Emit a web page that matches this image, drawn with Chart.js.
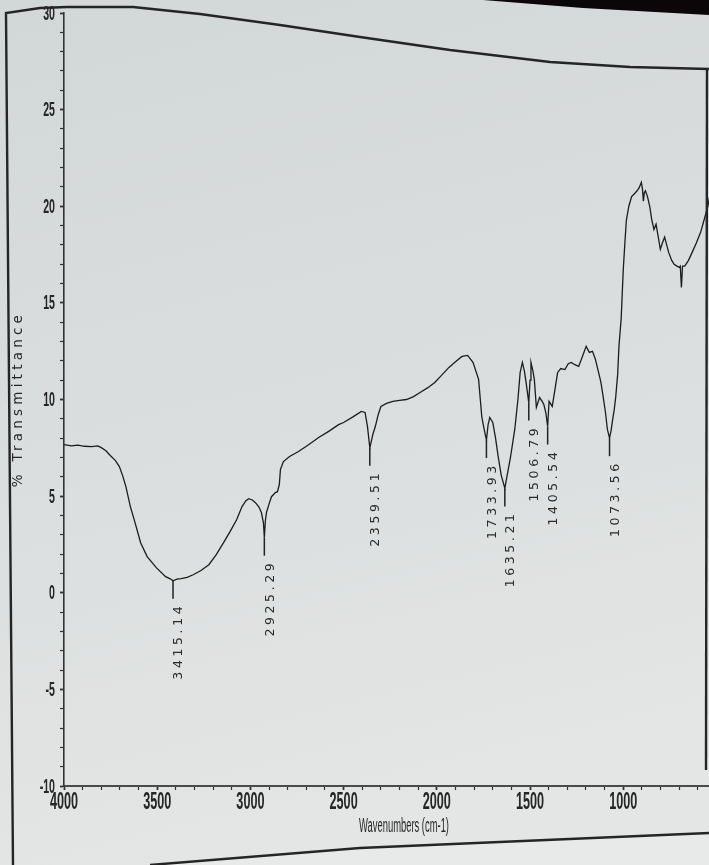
<!DOCTYPE html>
<html>
<head>
<meta charset="utf-8">
<script src="https://cdn.jsdelivr.net/npm/chart.js@4.4.1/dist/chart.umd.min.js"></script>
<style>
html,body{margin:0;padding:0;background:#d9dddc;}
#wrap{width:709px;height:865px;position:relative;}
</style>
</head>
<body>
<div id="wrap"><canvas id="c" width="709" height="865"></canvas></div>
<script>
// ---- data ----
const wavenumbers = [
4000,3960,3926,3890,3851,3820,3802,3775,3752,3725,3703,3685,3668,3644,3619,3589,3554,3505,3455,3430,
3415.14,3395,3371,3340,3307,3265,3223,3185,3144,3110,3074,3045,3025,3010,2990,2973,2955,2941,2930,
2925.29,2920,2914,2900,2887,2866,2855,2845,2839,2823,2790,2742,2690,2634,2580,2527,2500,2450,2405,2385,2372,
2359.51,2350,2343,2330,2315,2300,2270,2236,2200,2163,2125,2090,2050,2011,1975,1935,1900,1865,1835,1806,1776,1759,1748,
1733.93,1725,1716,1700,1685,1671,1655,
1635.21,1624,1605,1582,1565,1553,1541,1530,1520,
1506.79,1500,1495,1485,1477,1466,1449,1435,1426,1415,
1405.54,1398,1381,1365,1352,1335,1313,1295,1279,1260,1239,1220,1199,1182,1165,1150,1136,1120,1108,1095,1085,
1073.56,1065,1057,1048,1040,1030,1023,1011,1000,990,983,970,955,940,926,915,903,897,892,887,881,870,858,847,835,824,
812,801,790,778,767,756,740,727,712,699,694,688,682,670,650,631,608,585,566,546,530,512
];
const transmittance = [
7.67,7.60,7.64,7.58,7.56,7.60,7.52,7.35,7.10,6.85,6.53,6.05,5.49,4.46,3.63,2.59,1.87,1.30,0.83,0.72,
0.62,0.70,0.73,0.80,0.93,1.15,1.45,1.95,2.59,3.15,3.78,4.46,4.75,4.87,4.80,4.66,4.45,4.15,3.60,
2.85,3.70,4.15,4.60,4.97,5.18,5.23,5.60,6.37,6.79,7.05,7.31,7.65,8.03,8.35,8.70,8.81,9.10,9.38,9.33,8.60,
7.50,7.90,8.20,8.60,9.20,9.64,9.80,9.90,9.95,10.00,10.15,10.36,10.60,10.88,11.25,11.66,11.95,12.23,12.28,11.92,11.04,9.12,8.55,
7.90,8.70,9.07,8.81,8.00,7.05,6.10,
5.40,6.01,7.00,8.45,10.00,11.40,11.92,11.45,10.80,
9.84,11.00,11.92,11.50,11.04,9.59,10.10,9.90,9.74,9.30,
8.60,9.90,9.64,10.60,11.40,11.60,11.55,11.85,11.92,11.80,11.71,12.20,12.75,12.44,12.49,12.10,11.55,10.90,10.16,9.30,8.45,
8.00,8.40,8.96,9.50,10.16,11.30,12.75,14.20,16.70,18.30,19.30,20.00,20.50,20.65,20.80,20.95,21.24,20.90,20.26,20.70,20.80,20.50,20.00,19.30,18.80,19.07,
18.40,17.77,18.10,18.40,18.00,17.60,17.20,17.00,16.90,16.84,16.90,15.80,16.90,16.90,17.20,17.60,18.10,18.65,19.30,20.00,20.90,21.90
];
const peakWavenumbers = [3415.14, 2925.29, 2359.51, 1733.93, 1635.21, 1506.79, 1405.54, 1073.56];
const peakLabels = ['3415.14','2925.29','2359.51','1733.93','1635.21','1506.79','1405.54','1073.56'];
const xTickLabels = [4000, 3500, 3000, 2500, 2000, 1500, 1000];
const yTickLabels = [30, 25, 20, 15, 10, 5, 0, -5, -10];
const xTitle = 'Wavenumbers (cm-1)';
const yTitle = '% Transmittance';

const points = wavenumbers.map((w, i) => ({x: w, y: transmittance[i]}));

const FONT = '"Liberation Sans", Arial, Helvetica, sans-serif';
const WIDE = '"DejaVu Sans", Verdana, sans-serif';

const deco = {
  id: 'deco',
  beforeDraw(chart) {
    const c = chart.ctx, W = chart.width, H = chart.height;
    c.save();
    const g = c.createLinearGradient(0, 0, W * 0.3, H);
    g.addColorStop(0, '#d2d7d7');
    g.addColorStop(0.6, '#dcdfdf');
    g.addColorStop(1, '#e4e6e5');
    c.fillStyle = g;
    c.fillRect(0, 0, W, H);
    c.fillStyle = '#e8eae9';
    c.beginPath();
    c.moveTo(150, 865); c.lineTo(360, 848); c.lineTo(709, 833); c.lineTo(709, 865); c.closePath();
    c.fill();
    c.fillStyle = '#0b0607';
    c.beginPath();
    c.moveTo(483, 0); c.lineTo(709, 0); c.lineTo(709, 15); c.lineTo(583, 8); c.closePath();
    c.fill();
    c.restore();
  },
  afterDraw(chart) {
    const c = chart.ctx, xs = chart.scales.x, ys = chart.scales.y;
    c.save();
    c.strokeStyle = '#252525';
    c.lineWidth = 2.4;
    c.beginPath();
    const top = [[6,13],[40,8],[67,7],[133,7],[200,14],[280,25],[360,37],[450,50],[550,62],[630,67],[709,69]];
    c.moveTo(13, 865); c.lineTo(6, 13);
    top.forEach(p => c.lineTo(p[0], p[1]));
    c.stroke();
    c.beginPath(); c.moveTo(707, 68); c.lineTo(706, 770); c.stroke();
    c.beginPath(); c.moveTo(150, 865); c.lineTo(360, 848); c.lineTo(709, 833); c.stroke();

    c.fillStyle = '#262626';
    xTickLabels.forEach(v => {
      const px = xs.getPixelForValue(v);
      c.save();
      c.translate(px, 803);
      c.scale(0.55, 1);
      c.font = 'bold 23px ' + FONT;
      c.textAlign = 'center'; c.textBaseline = 'middle';
      c.fillText(String(v), 0, 0);
      c.restore();
    });
    yTickLabels.forEach(v => {
      const py = ys.getPixelForValue(v);
      c.save();
      c.translate(55, py + 1);
      c.scale(0.53, 1);
      c.font = 'bold 20px ' + FONT;
      c.textAlign = 'right'; c.textBaseline = 'middle';
      c.fillText(String(v), 0, 0);
      c.restore();
    });
    // x title
    c.save();
    c.font = '20px ' + FONT;
    const tw = c.measureText(xTitle).width;
    c.translate(404, 826);
    c.scale(90 / tw, 1);
    c.textAlign = 'center'; c.textBaseline = 'middle';
    c.fillText(xTitle, 0, 0);
    c.restore();
    // y title
    c.save();
    c.font = '13.5px ' + WIDE;
    const yw = c.measureText(yTitle).width;
    c.letterSpacing = Math.max(0, (172 - yw) / (yTitle.length - 1)).toFixed(2) + 'px';
    c.translate(18, 399);
    c.rotate(-Math.PI / 2);
    c.textAlign = 'center'; c.textBaseline = 'middle';
    c.fillText(yTitle, 0, 0);
    c.restore();
    // peak markers and labels
    peakWavenumbers.forEach((w, i) => {
      const idx = wavenumbers.indexOf(w);
      const px = xs.getPixelForValue(w);
      const py = ys.getPixelForValue(transmittance[idx]);
      c.strokeStyle = '#222';
      c.lineWidth = 1.5;
      c.beginPath(); c.moveTo(px, py); c.lineTo(px, py + 18); c.stroke();
      c.save();
      c.font = '12.5px ' + WIDE;
      c.letterSpacing = '3.6px';
      c.fillStyle = '#2a2a2a';
      c.translate(px + 6, py + 22);
      c.rotate(-Math.PI / 2);
      c.textAlign = 'right'; c.textBaseline = 'middle';
      c.fillText(peakLabels[i], 0, 0);
      c.restore();
    });
    c.restore();
  }
};

new Chart(document.getElementById('c'), {
  type: 'line',
  data: {
    datasets: [{
      data: points,
      borderColor: '#1c1c1c',
      borderWidth: 1.3,
      pointRadius: 0,
      tension: 0,
      fill: false
    }]
  },
  options: {
    responsive: false,
    animation: false,
    devicePixelRatio: 1,
    layout: {padding: {top: 13, right: 0, left: 0, bottom: 0}},
    plugins: {legend: {display: false}, tooltip: {enabled: false}},
    scales: {
      x: {
        type: 'linear',
        reverse: true,
        min: 540,
        max: 4000,
        ticks: {display: false},
        grid: {
          drawOnChartArea: false,
          tickLength: 4,
          color: '#333',
          tickWidth: ctx => (ctx.tick && xTickLabels.includes(ctx.tick.value)) ? 1.8 : 1.2
        },
        border: {display: true, color: '#4a4a4a', width: 2},
        afterBuildTicks: s => {
          const t = [];
          for (let v = xTickLabels[0]; v >= s.min; v -= 100) t.push({value: v});
          s.ticks = t;
        },
        afterFit: s => { s.height = 79; }
      },
      y: {
        type: 'linear',
        min: yTickLabels[yTickLabels.length - 1],
        max: yTickLabels[0],
        ticks: {display: false},
        grid: {
          drawOnChartArea: false,
          tickLength: 4,
          color: '#333',
          tickWidth: ctx => (ctx.tick && yTickLabels.includes(ctx.tick.value)) ? 1.8 : 1.2
        },
        border: {display: true, color: '#333', width: 1.6},
        afterBuildTicks: s => {
          const t = [];
          for (let v = yTickLabels[0]; v >= yTickLabels[yTickLabels.length - 1]; v -= 1) t.push({value: v});
          s.ticks = t;
        },
        afterFit: s => { s.width = 64; }
      }
    }
  },
  plugins: [deco]
});
</script>
</body>
</html>
